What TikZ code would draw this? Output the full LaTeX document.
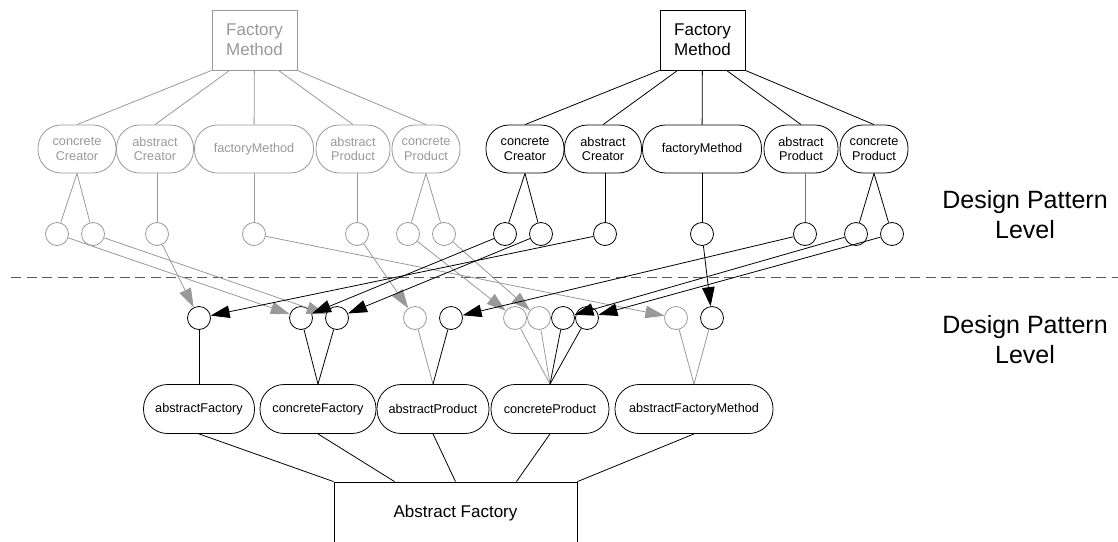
\documentclass[tikz,border=0pt]{standalone}
\usepackage{fontspec}
\setmainfont{Liberation Sans}
\usetikzlibrary{arrows.meta,calc}

\definecolor{faded}{gray}{0.6}
\definecolor{midgray}{gray}{0.45}
\definecolor{rulegray}{gray}{0.35}

\tikzset{
titlebox/.style={draw,align=center,minimum width=85pt,minimum height=60pt,
  font=\fontsize{17}{20}\selectfont},
role/.style={draw,rounded corners=23pt,align=center,minimum height=48pt,
  inner sep=2pt,font=\fontsize{12.7}{14.5}\selectfont},
member/.style={role,rounded corners=24pt,minimum height=49pt},
port/.style={circle,draw,minimum size=23pt,inner sep=0pt},
map/.style={-{Triangle[length=19pt,width=12.5pt]}},
ap link/.style={},
level/.style={align=center,font=\fontsize{25}{30}\selectfont},
pics/pattern/.style={
code={
\node[titlebox] (#1-box) at (254.5,40) {Factory\\Method};
\foreach \n/\x/\w/\txt in {cc/77/78/{concrete\\Creator},ac/155/77/{abstract\\Creator},
  fm/254/119/factoryMethod,ap/353/74/{abstract\\Product},cp/426/68/{concrete\\Product}}
  \node[role,minimum width=\w pt] (#1-\n) at (\x,149) {\txt};
\foreach \i/\x in {1/57,2/93,3/157,4/254,5/357,6/408,7/444}
  \node[port] (#1-\i) at (\x,234) {};
\draw (#1-box.south west) -- (#1-cc.north);
\draw ($(#1-box.south west)!.21!(#1-box.south east)$) -- (#1-ac.north);
\draw (#1-box) -- (#1-fm);
\draw ($(#1-box.south west)!.78!(#1-box.south east)$) -- (#1-ap.north);
\draw (#1-box.south east) -- (#1-cp.north);
\draw (#1-cc.south) -- (#1-1);
\draw (#1-cc.south) -- (#1-2);
\draw (#1-3 |- #1-ac.south) -- (#1-3);
\draw (#1-fm) -- (#1-4);
\draw[ap link] (#1-5 |- #1-ap.south) -- (#1-5);
\draw (#1-cp.south) -- (#1-6);
\draw (#1-cp.south) -- (#1-7);
}},
}

\begin{document}
\begin{tikzpicture}[x=1pt,y=-1pt,line width=0.8pt]
\useasboundingbox (0,0) rectangle (1118,541);
\pic[faded] at (0,0) {pattern=g};
\pic[ap link/.style={draw=midgray}] at (448,0) {pattern=k};

\coordinate (sep-l) at (11,277);
\coordinate (sep-r) at (1118,277);
\draw[rulegray,dash pattern=on 10pt off 5.5pt] (sep-l) -- (sep-r);

\node[level] (upper) at (1025,215) {Design Pattern\\Level};
\node[level] (lower) at (1025,340) {Design Pattern\\Level};

\foreach \i/\x/\c in {1/199/black,2/301/black,3/337/black,4/415/faded,5/451/black,
  6/515/faded,7/539/faded,8/563/black,9/587/black,10/676/faded,11/712/black}
  \node[port,draw=\c] (b\i) at (\x,318) {};

\foreach \s/\t in {1/2,2/3,3/1,4/10,5/4,6/6,7/7}
  \draw[map,faded] (g-\s) -- (b\t);
\foreach \s/\t in {1/2,2/3,3/1,4/11,5/5,6/8,7/9}
  \draw[map] (k-\s) -- (b\t);

\foreach \n/\x/\w/\txt in {afac/199/111/abstractFactory,cfac/318/116/concreteFactory,
  aprod/433/112/abstractProduct,cprod/550/118/concreteProduct,afm/694/158/abstractFactoryMethod}
  \node[member,minimum width=\w pt] (\n) at (\x,409) {\txt};

\draw (b1) -- (afac);
\draw (b2) -- (cfac.north);
\draw (b3) -- (cfac.north);
\draw[faded] (b4) -- (aprod.north);
\draw (b5) -- (aprod.north);
\draw[faded] (b6) -- (cprod.north);
\draw[faded] (b7) -- (cprod.north);
\draw (b8) -- (cprod.north);
\draw (b9) -- (cprod.north);
\draw[faded] (b10) -- (afm.north);
\draw[faded] (b11) -- (afm.north);

\node[draw,minimum width=243pt,minimum height=62pt,font=\fontsize{17}{20}\selectfont]
  (abs) at (455.5,513) {Abstract Factory};
\foreach \n/\f in {afac/0,cfac/.25,aprod/.5,cprod/.75,afm/1}
  \draw (\n.south) -- ($(abs.north west)!\f!(abs.north east)$);
\end{tikzpicture}
\end{document}
